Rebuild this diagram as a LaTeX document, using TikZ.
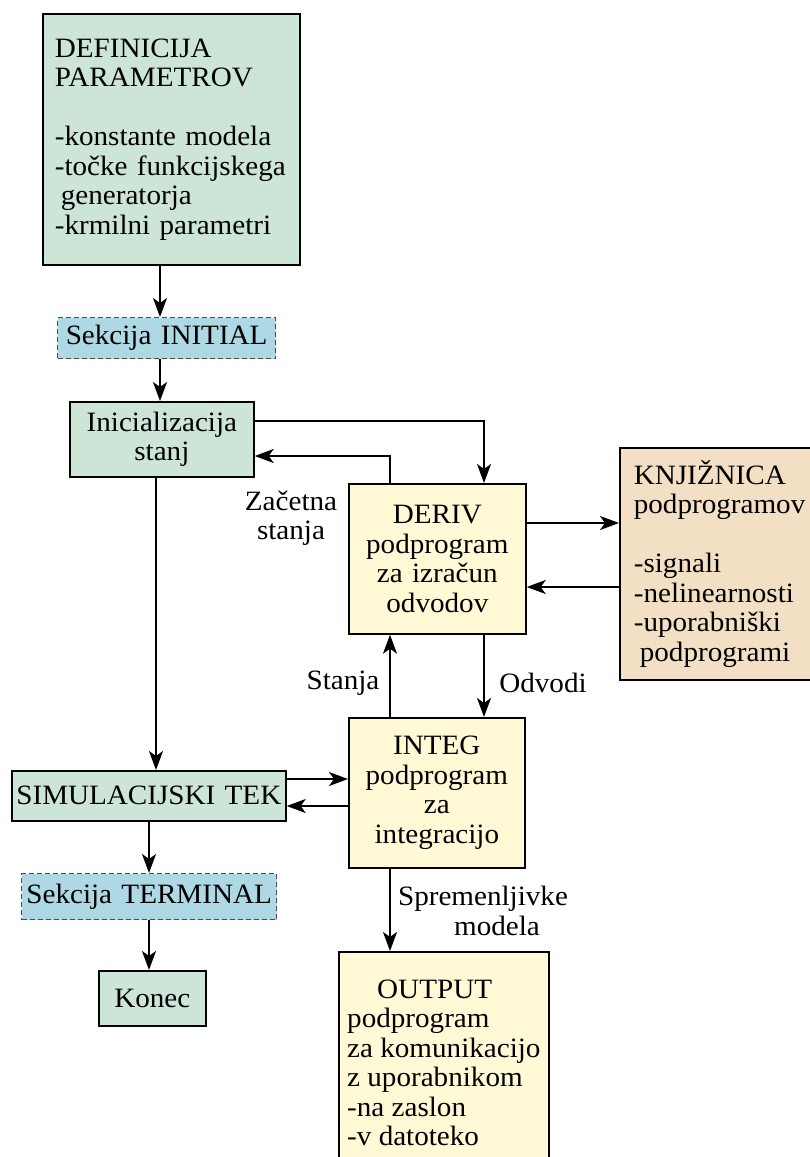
\documentclass[tikz,border=0pt]{standalone}
\usepackage{fontspec}
\setmainfont[FakeStretch=1.04]{Liberation Serif}
\usetikzlibrary{arrows.meta}
\definecolor{boxgreen}{HTML}{CCE5D6}
\definecolor{boxblue}{HTML}{ADD8E4}
\definecolor{boxyellow}{HTML}{FFF9D6}
\definecolor{boxtan}{HTML}{F3DFC4}
\tikzset{
  blk/.style={draw=black, line width=1.7pt, inner ysep=0pt, anchor=north west,
    font=\fontsize{28}{29.5}\selectfont},
  greenbox/.style={blk, fill=boxgreen},
  yellowbox/.style={blk, fill=boxyellow},
  tanbox/.style={blk, fill=boxtan},
  sectionbox/.style={blk, fill=boxblue, draw=black!70, line width=1.3pt, dash pattern=on 5pt off 3pt},
  arr/.style={line width=1.8pt, -{Stealth[length=19pt,width=14pt,inset=5pt]}},
  lbl/.style={font=\fontsize{28}{29.5}\selectfont, align=center, inner sep=0pt}
}
\begin{document}
\begin{tikzpicture}[x=1pt,y=-1pt]
\useasboundingbox (0,0) rectangle (810,1157);
\clip (0,0) rectangle (810,1157);

% blocks
\node[greenbox, minimum height=251pt, inner xsep=12pt, text width=233pt, align=left] (def) at (42,13)
  {DEFINICIJA\\PARAMETROV\\[29.5pt]-konstante modela\\-točke funkcijskega\\\hspace*{6pt}generatorja\\-krmilni parametri};
\node[sectionbox, minimum height=41pt, inner xsep=0pt, text width=218pt, align=center] (ini) at (57,317) {Sekcija INITIAL};
\node[greenbox, minimum height=75pt, inner xsep=0pt, text width=184pt, align=center] (inic) at (69,401) {Inicializacija\\stanj};
\node[yellowbox, minimum height=150pt, inner xsep=0pt, text width=177pt, align=center] (deriv) at (348,483)
  {DERIV\\podprogram\\za izračun\\odvodov};
\node[tanbox, minimum height=232pt, inner xsep=14pt, text width=180pt, align=left] (knj) at (619,447)
  {KNJIŽNICA\\podprogramov\\[29.5pt]-signali\\-nelinearnosti\\-uporabniški\\\hspace*{6pt}podprogrami};
\node[yellowbox, minimum height=150pt, inner xsep=0pt, text width=176pt, align=center] (integ) at (348,717)
  {INTEG\\podprogram\\za\\integracijo};
\node[greenbox, minimum height=50pt, inner xsep=0pt, text width=274pt, align=center] (sim) at (11,770) {SIMULACIJSKI TEK};
\node[sectionbox, minimum height=46pt, inner xsep=0pt, text width=255pt, align=center] (term) at (21,873) {Sekcija TERMINAL};
\node[greenbox, minimum height=55pt, inner xsep=0pt, text width=107pt, align=center] (konec) at (98,970) {Konec};
\node[yellowbox, minimum height=222pt, minimum width=210pt, inner xsep=0pt, align=left] (out) at (338,951)
  {\hspace*{30pt}OUTPUT\\podprogram\\za komunikacijo\\z uporabnikom\\-na zaslon\\-v datoteko};

% guide columns and rows for the connectors
\coordinate (xa) at (160,0);
\coordinate (xb) at (156,0);
\coordinate (xc) at (149,0);
\coordinate (xd) at (484,0);
\coordinate (xe) at (390,0);
\coordinate (r1) at (0,421);
\coordinate (r2) at (0,456);
\coordinate (r3) at (0,523);
\coordinate (r4) at (0,587);
\coordinate (r5) at (0,779);
\coordinate (r6) at (0,806);

% connectors
\draw[arr] (def.south -| xa) -- (ini.north -| xa);
\draw[arr] (ini.south -| xa) -- (inic.north -| xa);
\draw[arr] (inic.east |- r1) -| (deriv.north -| xd);
\draw[arr] (deriv.north -| xe) |- (inic.east |- r2);
\draw[arr] (inic.south -| xb) -- (sim.north -| xb);
\draw[arr] (deriv.east |- r3) -- (knj.west |- r3);
\draw[arr] (knj.west |- r4) -- (deriv.east |- r4);
\draw[arr] (integ.north -| xe) -- (deriv.south -| xe);
\draw[arr] (deriv.south -| xd) -- (integ.north -| xd);
\draw[arr] (sim.east |- r5) -- (integ.west |- r5);
\draw[arr] (integ.west |- r6) -- (sim.east |- r6);
\draw[arr] (sim.south -| xc) -- (term.north -| xc);
\draw[arr] (term.south -| xc) -- (konec.north -| xc);
\draw[arr] (integ.south -| xe) -- (out.north -| xe);

% connector labels
\node[lbl] (lzac) at (291,518) {Začetna\\stanja};
\node[lbl] (lsta) at (343,683) {Stanja};
\node[lbl] (lodv) at (543,683) {Odvodi};
\node[lbl] (lspr) at (483,911) {Spremenljivke\\\hspace*{28pt}modela};
\end{tikzpicture}
\end{document}
